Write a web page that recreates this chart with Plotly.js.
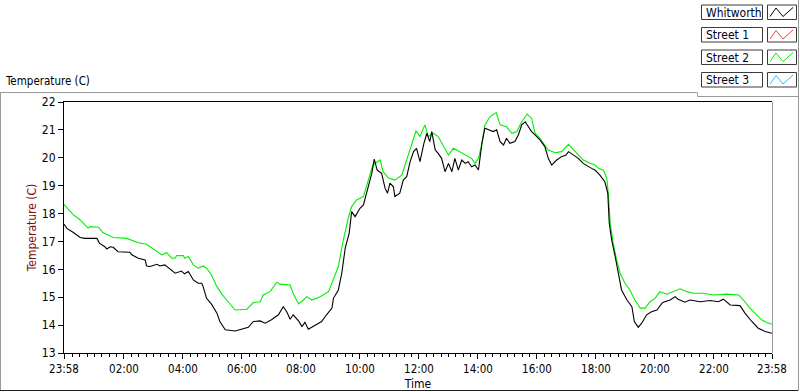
<!DOCTYPE html>
<html>
<head>
<meta charset="utf-8">
<script src="https://cdn.plot.ly/plotly-3.0.1.min.js"></script>
<style>
  html, body { margin: 0; padding: 0; background: #ffffff; }
  #chart { width: 800px; height: 392px; }
</style>
</head>
<body>
<div id="chart"></div>
<script>
// ---- Data (minutes after the 23:58 start, temperature in °C) ----
const seriesNames = ['Whitworth', 'Street 1', 'Street 2', 'Street 3'];

const whitworthTime = [0,6,19,33,43,67,72,83,87,94,
  100,110,134,138,151,165,168,175,189,195,
  205,212,219,226,239,245,253,263,273,280,
  283,290,300,311,317,328,348,361,375,385,
  399,409,422,436,446,453,460,466,477,484,
  490,497,511,524,534,545,548,558,565,572,
  580,585,592,602,609,616,626,631,637,646,
  653,658,663,670,673,683,690,697,704,711,
  717,724,732,738,744,748,755,761,768,775,
  782,789,795,802,809,816,822,829,836,843,
  850,856,866,873,880,887,894,900,907,917,
  924,931,938,944,951,958,968,978,985,992,
  1002,1012,1021,1026,1036,1046,1056,1066,1073,1080,
  1090,1100,1106,1109,1114,1121,1127,1134,1145,1155,
  1160,1168,1175,1185,1195,1206,1216,1219,1233,1243,
  1249,1263,1273,1294,1314,1331,1341,1355,1375,1385,
  1399,1412,1426,1440];
const whitworthTemp = [17.62,17.47,17.32,17.14,17.11,17.11,16.94,16.81,16.73,16.81,
  16.79,16.63,16.61,16.52,16.40,16.34,16.12,16.10,16.18,16.12,
  16.16,16.06,15.94,15.86,15.94,15.84,15.92,15.62,15.50,15.50,
  15.38,14.96,14.75,14.43,14.13,13.83,13.79,13.86,13.92,14.13,
  14.15,14.07,14.19,14.37,14.66,14.48,14.21,14.37,14.15,13.95,
  14.10,13.85,14.01,14.13,14.37,14.61,14.96,15.26,15.86,16.76,
  17.29,18.07,17.89,18.19,18.31,18.79,19.44,19.95,19.56,19.44,
  18.91,18.73,19.09,18.96,18.61,18.73,19.20,19.32,19.86,20.22,
  20.34,19.86,20.52,20.88,20.58,20.94,20.28,20.16,19.98,19.50,
  19.80,19.50,19.98,19.56,19.92,19.80,19.86,19.68,19.74,19.56,
  20.52,21.06,21.00,20.94,21.00,20.58,20.46,20.70,20.52,20.58,
  20.82,21.18,21.29,21.11,20.94,20.82,20.64,20.40,19.98,19.74,
  19.92,20.04,20.10,20.22,20.10,19.98,19.80,19.68,19.62,19.56,
  19.38,19.14,18.73,17.65,17.05,16.46,15.86,15.26,14.90,14.66,
  14.13,13.92,14.07,14.37,14.48,14.54,14.78,14.82,14.90,15.02,
  14.93,14.82,14.90,14.84,14.88,14.84,14.93,14.72,14.70,14.43,
  14.13,13.89,13.77,13.71];

const street1Time = [];
const street1Temp = [];

const street2Time = [0,19,33,49,53,70,79,100,128,138,
  151,168,181,191,199,209,219,226,229,243,
  245,253,263,273,283,290,300,311,321,331,
  348,372,385,399,405,419,433,439,460,466,
  477,487,494,504,521,538,548,558,568,578,
  585,595,609,619,628,643,649,660,673,687,
  697,707,716,724,734,741,751,761,772,782,
  792,805,819,829,836,843,850,856,866,879,
  887,900,911,921,931,942,951,958,968,985,
  999,1012,1026,1036,1046,1056,1070,1080,1087,1097,
  1104,1107,1111,1117,1124,1131,1141,1151,1161,1172,
  1182,1192,1202,1212,1226,1239,1253,1267,1280,1300,
  1321,1348,1372,1382,1395,1409,1419,1429,1440];
const street2Temp = [18.33,17.95,17.77,17.48,17.53,17.51,17.32,17.14,17.11,17.05,
  16.95,16.90,16.73,16.63,16.52,16.60,16.40,16.40,16.49,16.49,
  16.40,16.46,16.16,16.04,16.12,16.04,15.80,15.38,15.11,14.90,
  14.54,14.57,14.81,14.84,15.08,15.20,15.54,15.47,15.44,15.14,
  14.76,14.90,15.02,14.90,15.02,15.20,15.68,16.10,17.05,17.83,
  18.25,18.49,18.61,19.20,19.74,19.92,19.50,19.27,19.20,19.38,
  19.92,20.46,20.97,20.76,21.18,20.76,20.88,20.76,20.40,20.10,
  20.34,20.22,20.10,19.98,19.80,19.98,20.52,21.18,21.47,21.62,
  21.18,21.11,20.88,20.94,21.29,21.57,21.42,20.88,20.70,20.28,
  20.18,20.22,20.48,20.30,20.10,19.92,19.80,19.74,19.62,19.56,
  19.27,18.73,17.65,16.94,16.34,15.86,15.50,15.26,14.90,14.61,
  14.61,14.84,14.96,15.20,15.11,15.20,15.30,15.20,15.14,15.14,
  15.08,15.11,15.08,14.90,14.61,14.37,14.19,14.09,14.03];

const street3Time = [];
const street3Temp = [];

const timeTickVals = [0,122,242,362,482,602,722,842,962,1082,1202,1322,1440];
const timeTickText = ['23:58','02:00','04:00','06:00','08:00','10:00','12:00','14:00','16:00','18:00','20:00','22:00','23:58'];
const tempTickVals = [13,14,15,16,17,18,19,20,21,22];

// ---- Styles ----
const seriesColors = ['#000000', '#ff3b3b', '#00ee00', '#3ab8f0'];
const FONT = '"DejaVu Sans Condensed", "DejaVu Sans", "Liberation Sans", sans-serif';

// plot-area pixel box: x 64..772, y 102..353
const L = 64, R = 772, T = 102, B = 353;
const px = x => (x - L) / (R - L);
const py = y => (B - y) / (B - T);

const traces = [
  {x: street1Time, y: street1Temp, name: seriesNames[1], mode: 'lines', line: {color: seriesColors[1], width: 1}},
  {x: street3Time, y: street3Temp, name: seriesNames[3], mode: 'lines', line: {color: seriesColors[3], width: 1}},
  {x: street2Time, y: street2Temp, name: seriesNames[2], mode: 'lines', line: {color: seriesColors[2], width: 1.1}},
  {x: whitworthTime, y: whitworthTemp, name: seriesNames[0], mode: 'lines', line: {color: seriesColors[0], width: 1.1}}
];

const shapes = [];
const annotations = [];

// outer frame
const line = (x0, y0, x1, y1, color) => shapes.push({type: 'line', xref: 'paper', yref: 'paper',
  x0: px(x0), y0: py(y0), x1: px(x1), y1: py(y1), line: {color: color, width: 1}});
line(0, 92.5, 697, 92.5, '#9a9a9a');
line(0.5, 92.5, 0.5, 390, '#9a9a9a');
line(0, 390.5, 799, 390.5, '#202020');
line(798.5, 0, 798.5, 391, '#9a9a9a');
line(697.5, 92.5, 697.5, 96.5, '#9a9a9a');
line(697.5, 96.5, 798.5, 96.5, '#9a9a9a');
// right border of plot area
line(R + 0.5, T, R + 0.5, B, '#9a9a9a');

// custom legend (boxed names + line icons)
const rowTops = [5, 27.5, 50, 72.5];
const rowH = 14.5;
seriesNames.forEach((nm, i) => {
  const t = rowTops[i], b = t + rowH;
  shapes.push({type: 'rect', xref: 'paper', yref: 'paper', x0: px(701.5), x1: px(762.5), y0: py(b), y1: py(t),
    line: {color: '#3a3a3a', width: 1}, fillcolor: '#ffffff'});
  shapes.push({type: 'rect', xref: 'paper', yref: 'paper', x0: px(767.5), x1: px(796.5), y0: py(b), y1: py(t),
    line: {color: '#3a3a3a', width: 1}, fillcolor: '#ffffff'});
  const pts = [[770, b - 3], [776, t + 3], [783, b - 3], [793, t + 2.5]];
  const path = 'M ' + pts.map(p => px(p[0]) + ',' + py(p[1])).join(' L ');
  shapes.push({type: 'path', xref: 'paper', yref: 'paper', path: path, line: {color: seriesColors[i], width: 1}});
  annotations.push({xref: 'paper', yref: 'paper', x: px(703.5), y: py(t + rowH / 2 + 0.5), xanchor: 'left', yanchor: 'middle',
    text: nm, showarrow: false, font: {family: FONT, size: 12, color: '#000022'}});
});

// chart caption at top-left
annotations.push({xref: 'paper', yref: 'paper', x: px(3), y: py(81), xanchor: 'left', yanchor: 'middle',
  text: 'Temperature (C)', showarrow: false, font: {family: FONT, size: 11.5, color: '#000000'}});

const layout = {
  width: 800, height: 392,
  margin: {l: L, r: 800 - R, t: T, b: 392 - B, pad: 0},
  paper_bgcolor: '#ffffff', plot_bgcolor: '#ffffff',
  showlegend: false,
  hovermode: false,
  font: {family: FONT, size: 11, color: '#000000'},
  xaxis: {
    range: [0, 1440], fixedrange: true,
    showgrid: false, zeroline: false,
    showline: true, linecolor: '#000000', linewidth: 1, mirror: true,
    tickmode: 'array', tickvals: timeTickVals, ticktext: timeTickText,
    ticks: 'outside', ticklen: 5, tickcolor: '#000000', tickwidth: 1,
    tickfont: {family: FONT, size: 11.5, color: '#000000'},
    minor: {tickmode: 'linear', tick0: 2, dtick: 15, ticks: 'outside', ticklen: 3, tickcolor: '#000000', tickwidth: 1, showgrid: false},
    title: {text: 'Time', font: {family: FONT, size: 12, color: '#000000'}, standoff: 4},
    automargin: false
  },
  yaxis: {
    range: [13, 22], fixedrange: true,
    showgrid: false, zeroline: false,
    showline: true, linecolor: '#000000', linewidth: 1, mirror: false,
    tickmode: 'array', tickvals: tempTickVals,
    ticks: 'outside', ticklen: 5, tickcolor: '#000000', tickwidth: 1,
    tickfont: {family: FONT, size: 12, color: '#000000'},
    title: {text: 'Temperature (C)', font: {family: FONT, size: 12, color: '#7a1010'}, standoff: 2},
    automargin: false
  },
  shapes: shapes,
  annotations: annotations
};

Plotly.newPlot('chart', traces, layout, {displayModeBar: false, staticPlot: true});
</script>
</body>
</html>
